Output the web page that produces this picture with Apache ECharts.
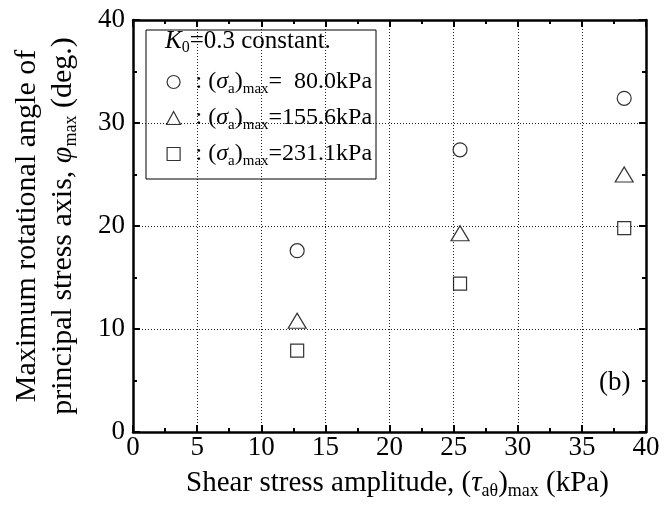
<!DOCTYPE html>
<html><head><meta charset="utf-8">
<script src="https://cdn.jsdelivr.net/npm/echarts@6/dist/echarts.min.js"></script>
<style>html,body{margin:0;padding:0;background:#fff}#c{width:664px;height:511px}</style>
</head><body><div id="c"></div>
<script>
// ---- data ----
const tauAmp = [12.8, 25.5, 38.3];            // (tau_a theta)max, kPa
const phiSigma80 = [17.6, 27.4, 32.4];        // (sigma_a)max = 80.0 kPa
const phiSigma156 = [10.8, 19.3, 25.0];       // (sigma_a)max = 155.6 kPa
const phiSigma231 = [7.9, 14.4, 19.8];        // (sigma_a)max = 231.1 kPa
const sigmaLabels = ['=  80.0kPa', '=155.6kPa', '=231.1kPa'];
const xTicks = [0, 5, 10, 15, 20, 25, 30, 35, 40];
const yTicks = [0, 10, 20, 30, 40];

const F = 'Liberation Serif';
const richL = {
  n: {fontFamily: F, fontSize: 24, color: '#000', lineHeight: 30},
  i: {fontFamily: F, fontSize: 24, fontStyle: 'italic', color: '#000', lineHeight: 30},
  s: {fontFamily: F, fontSize: 15, color: '#000', lineHeight: 15, padding: [15, 0, 0, 0]}
};
const richH = {
  n: {fontFamily: F, fontSize: 25, color: '#000', lineHeight: 30},
  i: {fontFamily: F, fontSize: 25, fontStyle: 'italic', color: '#000', lineHeight: 30},
  s: {fontFamily: F, fontSize: 16, color: '#000', lineHeight: 16, padding: [14, 0, 0, 0]}
};
const richX = {
  n: {fontFamily: F, fontSize: 29, color: '#000', lineHeight: 34},
  i: {fontFamily: F, fontSize: 29, fontStyle: 'italic', color: '#000', lineHeight: 34},
  s: {fontFamily: F, fontSize: 18, color: '#000', lineHeight: 18, padding: [16, 0, 0, 0]}
};
const richY = {
  n: {fontFamily: F, fontSize: 30, color: '#000', lineHeight: 36},
  i: {fontFamily: F, fontSize: 30, fontStyle: 'italic', color: '#000', lineHeight: 36},
  s: {fontFamily: F, fontSize: 18, color: '#000', lineHeight: 18, padding: [17, 0, 1, 0]}
};

const mk = (arr) => tauAmp.map((x, k) => [x, arr[k]]);
const names = ['s80', 's156', 's231'];
const symbolStyle = {color: '#fff', borderColor: '#000', borderWidth: 1.2};

const axisCommon = (pos) => ({
  type: 'value', min: 0, max: 40, position: pos,
  axisLine: {show: true, onZero: false, lineStyle: {color: '#000', width: 2.5}},
  axisTick: {show: true, inside: true, length: 7, lineStyle: {color: '#000', width: 2}},
  minorTick: {show: true, splitNumber: 2, length: 4, lineStyle: {color: '#000', width: 2}},
});

const chart = echarts.init(document.getElementById('c'), null, {renderer: 'canvas'});
chart.setOption({
  animation: false,
  backgroundColor: '#fff',
  grid: {left: 133, right: 18, top: 20, bottom: 79, containLabel: false},
  xAxis: [
    Object.assign(axisCommon('bottom'), {
      interval: 5,
      axisLabel: {show: true, margin: 2, fontFamily: F, fontSize: 27, color: '#000',
        formatter: (v) => xTicks.includes(v) ? String(v) : ''},
      splitLine: {show: true, lineStyle: {color: '#222', type: [1, 2], width: 1}},
      name: '{n|Shear stress amplitude, (}{i|τ}{s|aθ}{n|)}{s|max}{n| (kPa)}',
      nameLocation: 'middle', nameGap: 29.5,
      nameTextStyle: {rich: richX, padding: [0, 0, 0, 16]}
    }),
    Object.assign(axisCommon('top'), {interval: 5, axisLabel: {show: false}, splitLine: {show: false}})
  ],
  yAxis: [
    Object.assign(axisCommon('left'), {
      interval: 10,
      axisLabel: {show: true, margin: 8, fontFamily: F, fontSize: 27, color: '#000',
        formatter: (v) => yTicks.includes(v) ? String(v) : ''},
      splitLine: {show: true, lineStyle: {color: '#222', type: [1, 2], width: 1}},
      name: '{n|Maximum rotational angle of}\n{n|principal stress axis, }{i|φ}{s|max}{n| (deg.)}',
      nameLocation: 'middle', nameGap: 52, nameRotate: 90,
      nameTextStyle: {rich: richY}
    }),
    Object.assign(axisCommon('right'), {interval: 10, axisLabel: {show: false}, splitLine: {show: false}})
  ],
  legend: {
    show: true, orient: 'vertical', left: 161, top: 62, padding: 5,
    itemWidth: 14, itemHeight: 13, itemGap: 6,
    data: [
      {name: names[0], icon: 'circle'},
      {name: names[1], icon: 'triangle'},
      {name: names[2], icon: 'path://M0 0H10V10H0Z'}
    ],
    selectedMode: false,
    itemStyle: {color: '#fff', borderColor: '#000', borderWidth: 1.2},
    textStyle: {rich: richL, padding: [0, 0, 0, 10]},
    formatter: (nm) => '{n|: (}{i|σ}{s|a}{n|)}{s|max}{n|' + sigmaLabels[names.indexOf(nm)] + '}'
  },
  graphic: [
    {type: 'rect', shape: {x: 146, y: 30, width: 230, height: 149}, z: 0,
      style: {fill: '#fff', stroke: '#000', lineWidth: 1}},
    {type: 'text', x: 165, y: 26, z: 10,
      style: {text: '{i|K}{s|0}{n|=0.3 constant.}', rich: richH}},
    {type: 'text', x: 599, y: 369, z: 10,
      style: {text: '(b)', font: '27px "Liberation Serif"', fill: '#000'}}
  ],
  series: [
    {name: names[0], type: 'scatter', data: mk(phiSigma80), symbol: 'circle', symbolSize: 14, itemStyle: symbolStyle, z: 5},
    {name: names[1], type: 'scatter', data: mk(phiSigma156), symbol: 'triangle', symbolSize: [18, 15], itemStyle: symbolStyle, z: 5},
    {name: names[2], type: 'scatter', data: mk(phiSigma231), symbol: 'rect', symbolSize: 13, itemStyle: symbolStyle, z: 5}
  ]
});
</script></body></html>
